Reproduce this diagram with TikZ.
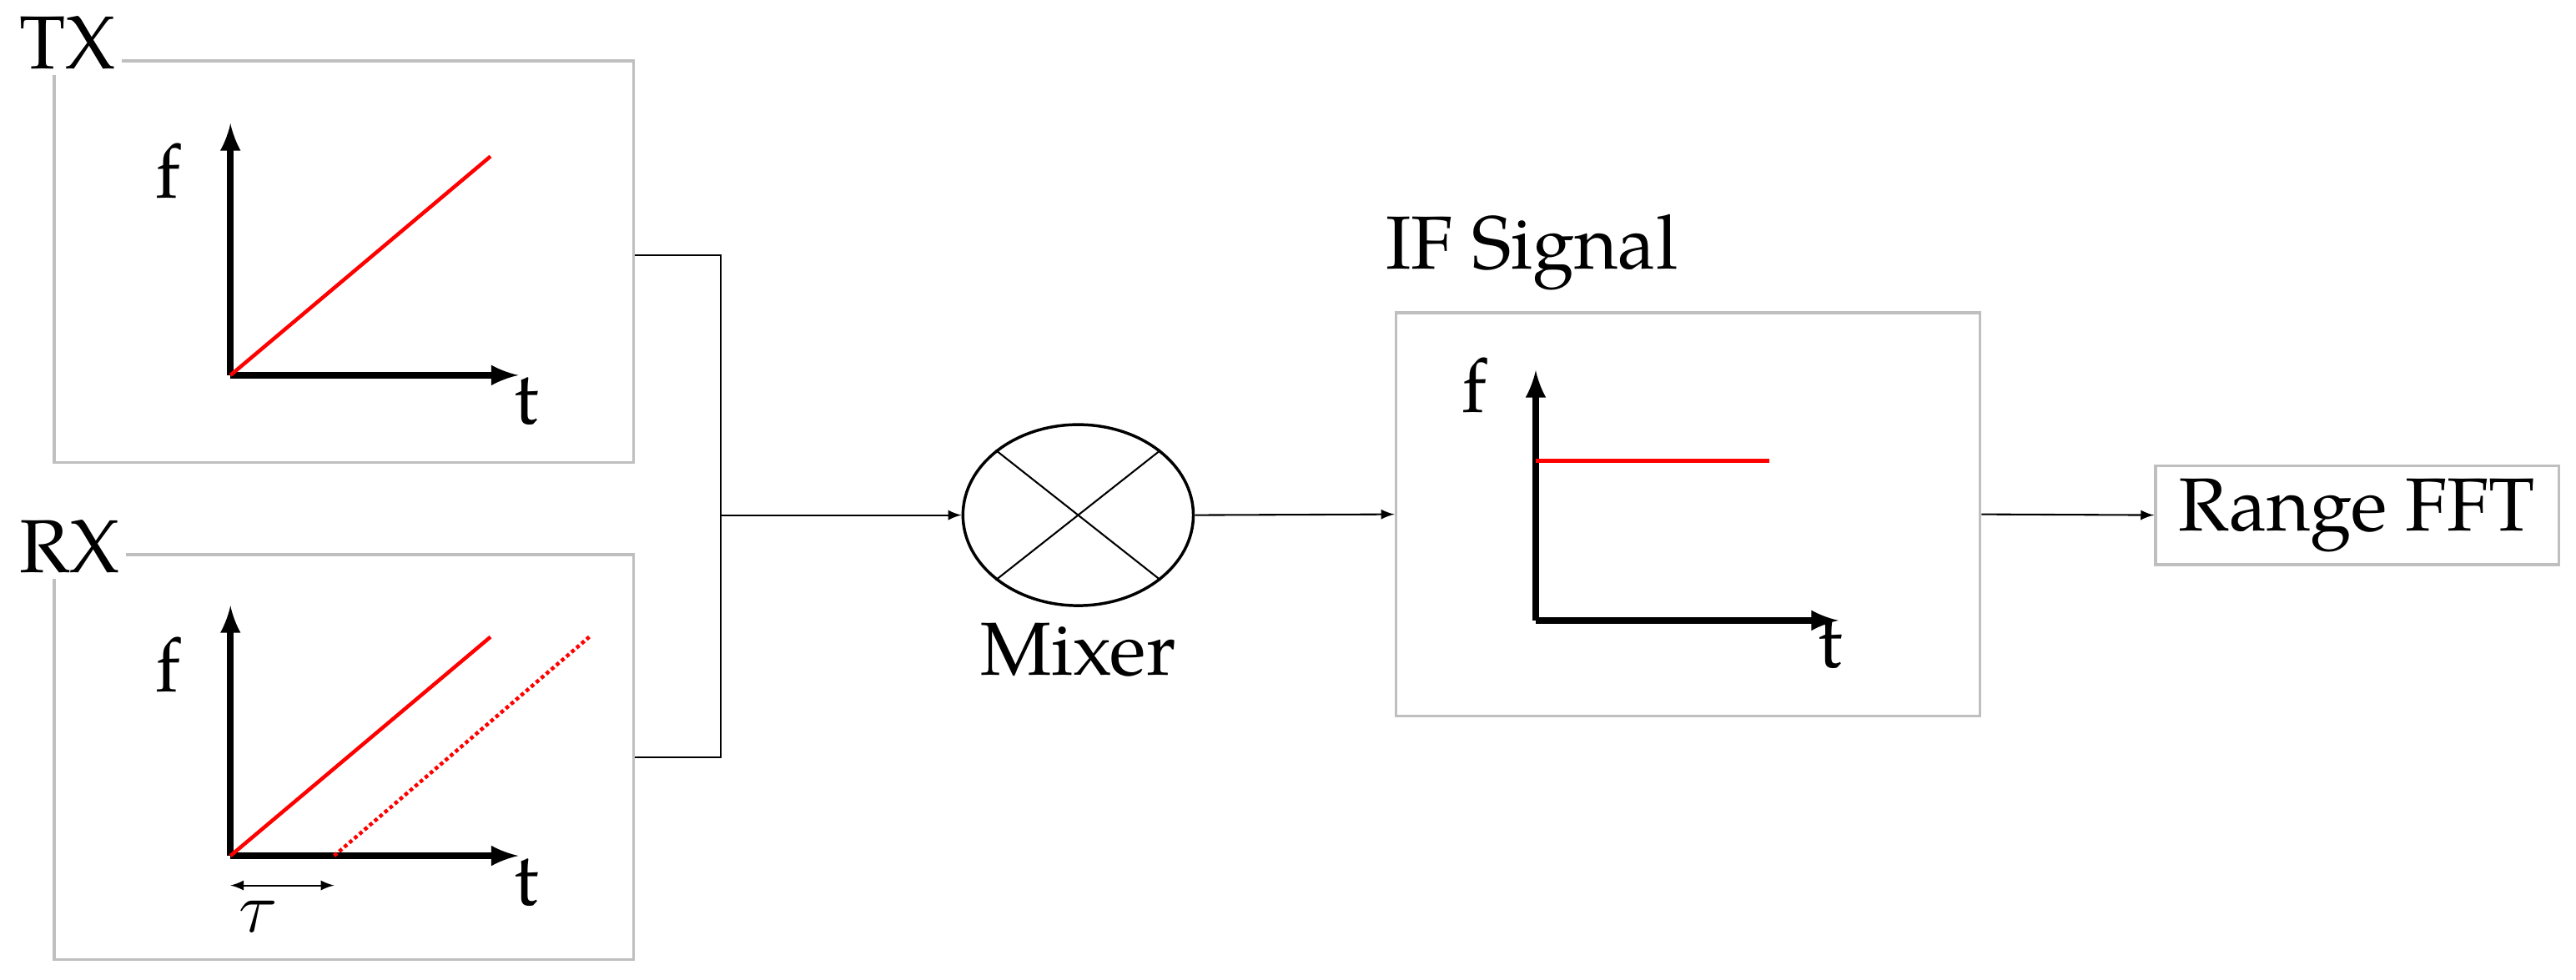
\documentclass[tikz,border=0pt]{standalone}
\usepackage{fontspec}
\setmainfont{TeX Gyre Pagella}
\usetikzlibrary{positioning,shapes.geometric}
\begin{document}
\begin{tikzpicture}[x=0.02cm, y=-0.02cm, font=\fontsize{26}{30}\selectfont,
	panel/.style={draw=black!25, line width=1pt, inner sep=0pt},
	axis/.style={line width=2.2pt, ->, >=latex},
	wire/.style={line width=0.6pt},
	sig/.style={red, line width=1.3pt},
	tag/.style={fill=white, inner sep=2pt, anchor=south west}]
	\useasboundingbox (0,0) rectangle (1565,595);

	% panels
	\node[panel, minimum width=7.04cm, minimum height=4.88cm] (tx) at (209,159) {};
	\node[panel, minimum width=7.04cm, minimum height=4.92cm] (rx) at (209,460) {};
	\node[panel, minimum width=7.10cm, minimum height=4.90cm] (if) at (1025.5,312.5) {};
	\node[tag] (txl) at (8,46) {TX};
	\node[tag] (rxl) at (8,352) {RX};
	\node[tag] (ifl) at (838,180) {IF Signal};

	% TX chirp
	\draw[axis] (140,228) -- (140,75);
	\draw[axis] (140,228) -- (315,228);
	\node (txf) at (102,104) {f};
	\node (txt) at (320,244) {t};
	\draw[sig] (140,228) -- (298,95);

	% RX chirp
	\draw[axis] (140,520) -- (140,368);
	\draw[axis] (140,520) -- (315,520);
	\node (rxf) at (102,404) {f};
	\node (rxt) at (320,536) {t};
	\draw[sig] (140,520) -- (298,387);
	\draw[sig, densely dotted] (203,520) -- (358,387);
	\draw[wire, <->, >=latex] (140,538) -- (203,538);
	\node (tau) at (157,557) {$\tau$};

	% mixer
	\node[draw, ellipse, line width=1pt, minimum width=2.8cm, minimum height=2.2cm] (mix) at (655,313) {};
	\draw[wire] (mix.north west) -- (mix.south east);
	\draw[wire] (mix.north east) -- (mix.south west);
	\node[below=2pt of mix] (mixl) {Mixer};

	% range fft
	\node[panel, minimum width=4.9cm, minimum height=1.2cm] (fft) at (1432,313) {Range FFT};

	% IF tone
	\draw[axis] (933,377) -- (933,225);
	\draw[axis] (933,377) -- (1117,377);
	\node (iff) at (896,234) {f};
	\node (ift) at (1112,392) {t};
	\draw[sig] (933,280) -- (1075,280);

	% wiring
	\coordinate (j) at (438,313);
	\draw[wire] (tx.east |- 0,155) -| (j) |- (rx.east |- 0,460);
	\draw[wire, ->, >=latex] (j) -- (mix.west);
	\draw[wire, ->, >=latex] (mix.east) -- (if.west);
	\draw[wire, ->, >=latex] (if.east) -- (fft.west);
\end{tikzpicture}
\end{document}
